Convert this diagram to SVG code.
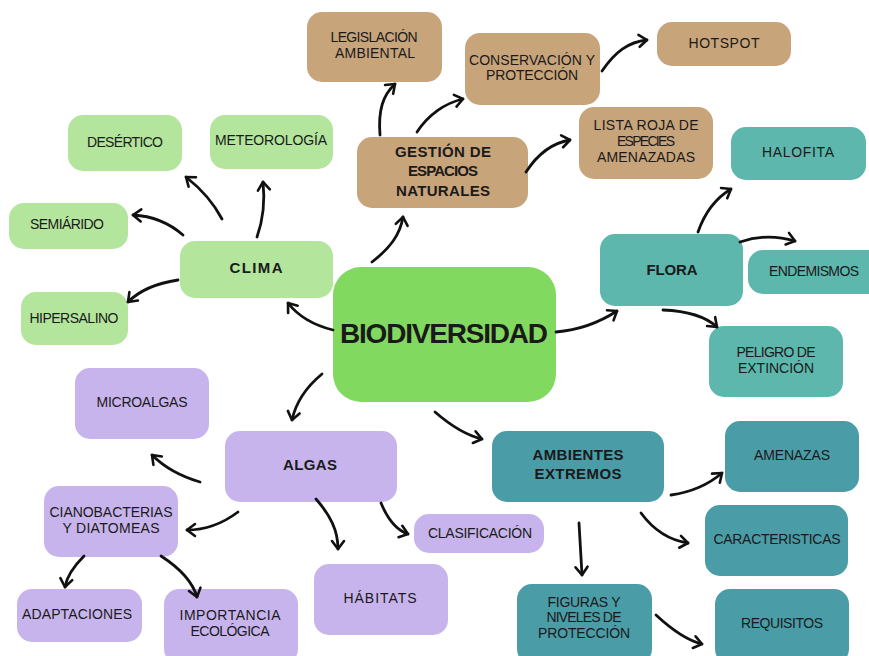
<svg xmlns="http://www.w3.org/2000/svg" width="869" height="656" viewBox="0 0 869 656">
<defs>
<style>
.g{fill:#b3e69c}
.c{fill:#82d960}
.b{fill:#c8a47b}
.t1{fill:#5db7ad}
.t2{fill:#4a9ca7}
.p{fill:#c8b4ec}
text{font-family:"Liberation Sans","Open Sans",sans-serif;fill:#1a1a1a;text-anchor:middle;dominant-baseline:central;font-size:14px}
.bd{font-weight:bold;font-size:15px}
.big{font-weight:bold;font-size:28px}
.cn path{fill:none;stroke:#111;stroke-width:2.8;stroke-linecap:round;marker-end:url(#ah)}
</style>
<marker id="ah" viewBox="-11 -8 13 16" refX="0" refY="0" markerWidth="13" markerHeight="16" markerUnits="userSpaceOnUse" orient="auto">
<path d="M-8,-6 L0,0 L-8,6" fill="none" stroke="#111" stroke-width="2.6" stroke-linecap="round" stroke-linejoin="round"/>
</marker>
</defs>
<rect width="869" height="656" fill="#ffffff"/>
<g id="n-leg"><rect class="b" x="307" y="12" width="135" height="70" rx="15"/><text x="374" y="37" textLength="87">LEGISLACIÓN</text><text x="375" y="53" textLength="80">AMBIENTAL</text></g>
<g id="n-cons"><rect class="b" x="465" y="33" width="135" height="72" rx="15"/><text x="532" y="60" textLength="126">CONSERVACIÓN Y</text><text x="532" y="75" textLength="92">PROTECCIÓN</text></g>
<g id="n-hot"><rect class="b" x="657" y="22" width="134" height="44" rx="15"/><text x="724" y="43" textLength="71">HOTSPOT</text></g>
<g id="n-lista"><rect class="b" x="579" y="107" width="134" height="72" rx="15"/><text x="646" y="125" textLength="105">LISTA ROJA DE</text><text x="646" y="141" textLength="58">ESPECIES</text><text x="646" y="157" textLength="98">AMENAZADAS</text></g>
<g id="n-gest"><rect class="b" x="357" y="137" width="171" height="71" rx="15"/><text class="bd" x="443" y="151" textLength="96">GESTIÓN DE</text><text class="bd" x="443" y="170" textLength="70">ESPACIOS</text><text class="bd" x="443" y="190" textLength="94">NATURALES</text></g>
<g id="n-des"><rect class="g" x="68" y="115" width="114" height="56" rx="15"/><text x="125" y="142" textLength="76">DESÉRTICO</text></g>
<g id="n-met"><rect class="g" x="210" y="115" width="123" height="54" rx="15"/><text x="271" y="140" textLength="112">METEOROLOGÍA</text></g>
<g id="n-semi"><rect class="g" x="9" y="203" width="119" height="46" rx="15"/><text x="67" y="224" textLength="74">SEMIÁRIDO</text></g>
<g id="n-clima"><rect class="g" x="180" y="241" width="153" height="57" rx="15"/><text class="bd" x="256" y="267" textLength="53">CLIMA</text></g>
<g id="n-hiper"><rect class="g" x="21" y="292" width="107" height="53" rx="15"/><text x="74" y="318" textLength="89">HIPERSALINO</text></g>
<g id="n-bio"><rect class="c" x="333" y="267" width="223" height="135" rx="28"/><text class="big" x="444" y="333" textLength="208">BIODIVERSIDAD</text></g>
<g id="n-halo"><rect class="t1" x="731" y="127" width="135" height="53" rx="15"/><text x="798" y="152" textLength="72">HALOFITA</text></g>
<g id="n-flora"><rect class="t1" x="600" y="234" width="143" height="72" rx="15"/><text class="bd" x="672" y="269" textLength="51">FLORA</text></g>
<g id="n-ende"><rect class="t1" x="748" y="250" width="135" height="44" rx="15"/><text x="814" y="271" textLength="90">ENDEMISMOS</text></g>
<g id="n-peli"><rect class="t1" x="709" y="326" width="134" height="71" rx="15"/><text x="776" y="352" textLength="79">PELIGRO DE</text><text x="776" y="368" textLength="76">EXTINCIÓN</text></g>
<g id="n-micro"><rect class="p" x="75" y="368" width="134" height="71" rx="15"/><text x="142" y="402" textLength="91">MICROALGAS</text></g>
<g id="n-algas"><rect class="p" x="225" y="431" width="172" height="71" rx="15"/><text class="bd" x="310" y="464" textLength="54">ALGAS</text></g>
<g id="n-ciano"><rect class="p" x="44" y="486" width="134" height="71" rx="15"/><text x="111" y="512" textLength="123">CIANOBACTERIAS</text><text x="111" y="528" textLength="97">Y DIATOMEAS</text></g>
<g id="n-adap"><rect class="p" x="17" y="589" width="125" height="53" rx="15"/><text x="77" y="614" textLength="110">ADAPTACIONES</text></g>
<g id="n-impo"><rect class="p" x="164" y="589" width="134" height="75" rx="15"/><text x="230" y="615" textLength="101">IMPORTANCIA</text><text x="230" y="631" textLength="79">ECOLÓGICA</text></g>
<g id="n-habi"><rect class="p" x="314" y="564" width="134" height="71" rx="15"/><text x="380" y="598" textLength="73">HÁBITATS</text></g>
<g id="n-clas"><rect class="p" x="414" y="514" width="130" height="39" rx="15"/><text x="480" y="533" textLength="104">CLASIFICACIÓN</text></g>
<g id="n-amb"><rect class="t2" x="492" y="431" width="172" height="71" rx="15"/><text class="bd" x="578" y="454" textLength="91">AMBIENTES</text><text class="bd" x="578" y="473" textLength="87">EXTREMOS</text></g>
<g id="n-amen"><rect class="t2" x="725" y="421" width="134" height="71" rx="15"/><text x="792" y="455" textLength="76">AMENAZAS</text></g>
<g id="n-cara"><rect class="t2" x="705" y="505" width="143" height="71" rx="15"/><text x="777" y="539" textLength="127">CARACTERISTICAS</text></g>
<g id="n-figu"><rect class="t2" x="517" y="584" width="135" height="80" rx="15"/><text x="584" y="602" textLength="73">FIGURAS Y</text><text x="584" y="617" textLength="75">NIVELES DE</text><text x="584" y="633" textLength="92">PROTECCIÓN</text></g>
<g id="n-requ"><rect class="t2" x="715" y="589" width="134" height="75" rx="15"/><text x="782" y="623" textLength="82">REQUISITOS</text></g>
<g id="connectors" class="cn">
<path d="M380,135 C378,110 383,95 395,84"/>
<path d="M417,132 C428,115 445,103 463,99"/>
<path d="M602,71 C615,52 628,42 647,40"/>
<path d="M526,172 C537,155 552,143 570,140"/>
<path d="M222,219 C212,200 200,188 186,177"/>
<path d="M257,237 C263,220 265,200 263,182"/>
<path d="M183,235 C168,222 152,216 133,215"/>
<path d="M178,280 C158,283 140,290 128,302"/>
<path d="M333,330 C313,325 298,316 288,303"/>
<path d="M372,262 C390,248 400,235 403,217"/>
<path d="M556,332 C580,330 600,322 617,311"/>
<path d="M698,232 C705,212 716,198 731,189"/>
<path d="M740,242 C760,235 778,236 795,241"/>
<path d="M663,310 C688,311 705,316 717,327"/>
<path d="M322,374 C305,388 296,402 292,420"/>
<path d="M435,412 C450,425 465,435 482,439"/>
<path d="M200,482 C183,477 165,468 152,455"/>
<path d="M238,512 C222,524 205,530 187,530"/>
<path d="M316,499 C330,515 338,530 338,549"/>
<path d="M381,503 C388,520 396,530 408,534"/>
<path d="M84,556 C75,565 67,575 65,587"/>
<path d="M161,556 C178,567 192,580 197,597"/>
<path d="M671,495 C692,492 708,485 722,473"/>
<path d="M641,513 C652,528 668,540 688,543"/>
<path d="M579,523 C580,540 581,558 582,575"/>
<path d="M656,615 C670,628 685,640 702,644"/>
</g>
</svg>
